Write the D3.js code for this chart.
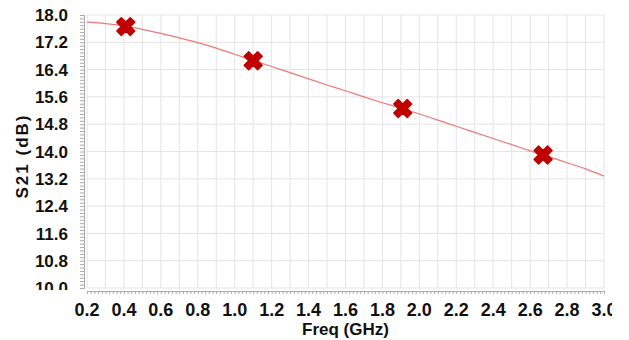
<!DOCTYPE html>
<html lang="en">
<head>
	<meta charset="UTF-8">
	<title>S21 vs Freq</title>
	<script src="https://cdn.jsdelivr.net/npm/d3@7"></script>
	<style>
		body { margin: 0; background: white; }
		text { font-family: "Liberation Sans", Arial, sans-serif; font-weight: bold; fill: #111; }
	</style>
</head>
<body>
	<div id="vis"></div>

	<script>
		var width = 629;
		var height = 340;

		// trace (GHz, dB)
		var freq = [0.2, 0.3, 0.4, 0.5, 0.6, 0.7, 0.8, 0.9, 1.0, 1.1, 1.2, 1.3, 1.4, 1.5,
			1.6, 1.7, 1.8, 1.9, 2.0, 2.1, 2.2, 2.3, 2.4, 2.5, 2.6, 2.7, 2.8, 2.9, 3.0];
		var s21 = [17.79, 17.75, 17.68, 17.58, 17.46, 17.33, 17.19, 17.03, 16.85, 16.67, 16.49, 16.31, 16.13, 15.95,
			15.78, 15.60, 15.43, 15.27, 15.10, 14.92, 14.74, 14.56, 14.38, 14.20, 14.02, 13.85, 13.67, 13.49, 13.28];

		// markers
		var markerFreq = [0.41, 1.10, 1.91, 2.67];
		var markerS21 = [17.66, 16.66, 15.26, 13.90];

		var xTicks = [0.2, 0.4, 0.6, 0.8, 1.0, 1.2, 1.4, 1.6, 1.8, 2.0, 2.2, 2.4, 2.6, 2.8, 3.0];
		var yTicks = [10.0, 10.8, 11.6, 12.4, 13.2, 14.0, 14.8, 15.6, 16.4, 17.2, 18.0];

		// plot box (note: "top" is a reserved window property, so use mTop)
		var mLeft = 87, mRight = 604, mTop = 15, mBottom = 288;

		var x = d3.scaleLinear().domain([0.2, 3.0]).range([mLeft, mRight]);
		var y = d3.scaleLinear().domain([10, 18]).range([mBottom, mTop]);

		var svg = d3.select("#vis").append("svg")
			.attr("width", width)
			.attr("height", height);

		// grid
		var vGrid = d3.range(2, 31).map(function(d) { return d / 10; });
		svg.append("g").selectAll("line").data(vGrid).join("line")
			.attr("x1", function(d) { return x(d); })
			.attr("x2", function(d) { return x(d); })
			.attr("y1", mTop).attr("y2", mBottom)
			.attr("stroke", "#e4e4e4").attr("stroke-width", 1);
		svg.append("g").selectAll("line").data(yTicks).join("line")
			.attr("x1", mLeft).attr("x2", mRight)
			.attr("y1", function(d) { return y(d); })
			.attr("y2", function(d) { return y(d); })
			.attr("stroke", "#e4e4e4").attr("stroke-width", 1);

		// y axis ruler
		var yAxis = svg.append("g").attr("transform", "translate(" + (mLeft - 3) + ",0)");
		yAxis.call(d3.axisLeft(y).tickValues(d3.range(100, 181).map(function(d) { return d / 10; }))
			.tickSize(4).tickFormat(""));
		yAxis.selectAll("line, path").attr("stroke", "#aaa");

		// y labels
		svg.append("g").selectAll("text").data(yTicks).join("text")
			.attr("x", 68)
			.attr("y", function(d) { return y(d); })
			.attr("dy", "0.36em")
			.attr("text-anchor", "end")
			.attr("font-size", 17)
			.text(function(d) { return d.toFixed(1); });

		// mask clipped bottom label
		svg.append("rect").attr("x", 0).attr("y", 290).attr("width", mLeft - 8).attr("height", 12).attr("fill", "white");

		// x axis ruler
		var xAxis = svg.append("g").attr("transform", "translate(0," + (mBottom + 3) + ")");
		xAxis.call(d3.axisBottom(x).tickValues(d3.range(10, 151).map(function(d) { return d / 50; }))
			.tickSize(3).tickFormat(""));
		xAxis.selectAll("line, path").attr("stroke", "#aaa");

		// x labels, clipped at right edge
		svg.append("clipPath").attr("id", "xclip").append("rect")
			.attr("x", 0).attr("y", 0).attr("width", 612).attr("height", height);
		svg.append("g").attr("clip-path", "url(#xclip)")
			.selectAll("text").data(xTicks).join("text")
			.attr("x", function(d) { return x(d); })
			.attr("y", 316)
			.attr("text-anchor", "middle")
			.attr("font-size", 18)
			.text(function(d) { return d.toFixed(1); });

		// axis titles
		svg.append("text")
			.attr("x", (mLeft + mRight) / 2)
			.attr("y", 335)
			.attr("text-anchor", "middle")
			.attr("font-size", 17)
			.text("Freq (GHz)");
		svg.append("text")
			.attr("transform", "translate(28,156) rotate(-90)")
			.attr("text-anchor", "middle")
			.attr("font-size", 17)
			.attr("letter-spacing", 2)
			.text("S21 (dB)");

		// trace
		var line = d3.line()
			.x(function(d, i) { return x(freq[i]); })
			.y(function(d) { return y(d); })
			.curve(d3.curveMonotoneX);
		svg.append("path")
			.datum(s21)
			.attr("d", line)
			.attr("fill", "none")
			.attr("stroke", "#f07878")
			.attr("stroke-width", 1.2);

		// markers
		var sym = d3.symbol().type(d3.symbolCross).size(200);
		svg.append("g").selectAll("path").data(markerS21).join("path")
			.attr("d", sym)
			.attr("transform", function(d, i) { return "translate(" + x(markerFreq[i]) + "," + y(d) + ") rotate(45)"; })
			.attr("fill", "#c00000")
			.attr("stroke", "#c00000")
			.attr("stroke-width", 1.5)
			.attr("stroke-linejoin", "round");
</script>
</body>
</html>
